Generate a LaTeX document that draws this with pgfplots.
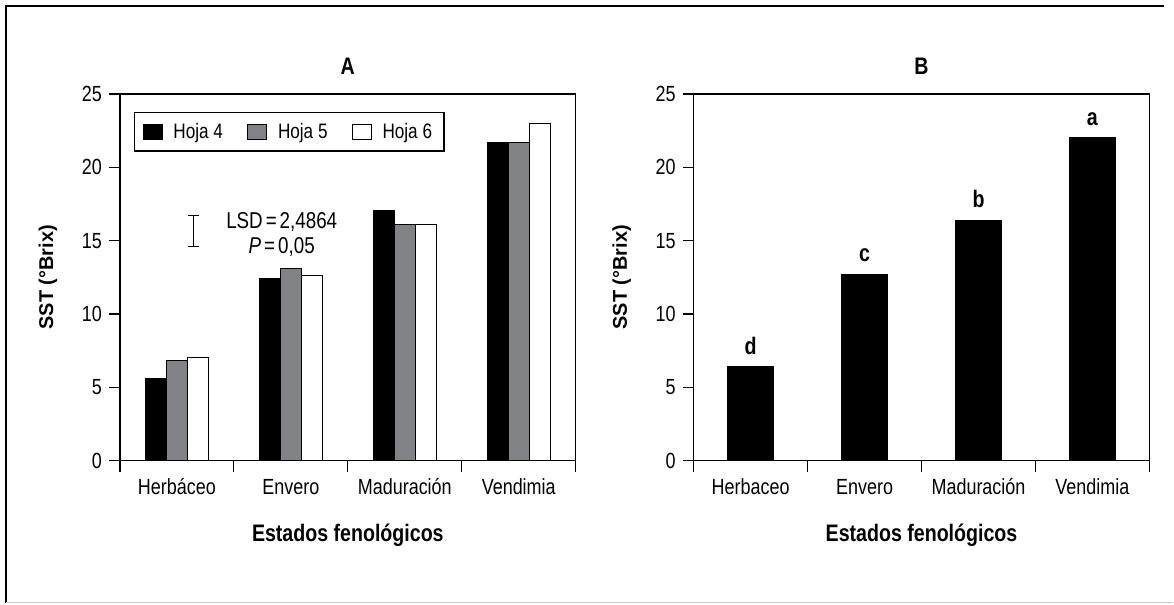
\documentclass[border=0pt]{standalone}
\usepackage{fontspec}
\setmainfont{Liberation Sans}[FakeStretch=0.82]
\newfontfamily\widefont{Liberation Sans}
\usepackage{pgfplots}
\pgfplotsset{compat=1.18}

\definecolor{midgray}{RGB}{128,130,133}

\pgfplotsset{
  brixaxis/.style={
    width=228bp, height=183.5bp, scale only axis,
    xmin=-0.5, xmax=3.5, ymin=0, ymax=25,
    ytick={0,5,...,25},
    xtick={-0.5,0.5,1.5,2.5,3.5}, xticklabels={},
    extra x ticks={0,1,2,3},
    extra x tick style={major tick length=0pt,
      xticklabel style={anchor=base, yshift=-17bp}},
    tick align=outside, major tick length=5.5bp,
    tick pos=left,
    tick style={black, line width=0.6bp},
    axis line style={line width=0.6bp},
    /pgf/number format/assume math mode=true,
    ticklabel style={font=\fontsize{11}{13}\selectfont},
    xlabel={\bfseries Estados fenológicos},
    xlabel style={at={(axis description cs:0.5,-0.221)}, anchor=base,
      font=\fontsize{12}{14}\selectfont},
    ylabel={SST (°Brix)},
    ylabel style={at={(axis description cs:-0.158,0.5)}, anchor=center,
      font=\widefont\bfseries\fontsize{10}{12}\selectfont},
    title style={at={(0.5,1)}, anchor=base, yshift=4bp,
      font=\bfseries\fontsize{12}{14}\selectfont},
  }
}

\begin{document}
\begin{tikzpicture}
\path (0bp,0bp) rectangle (587bp,302.5bp);
\draw[line width=0.6bp] (3bp,1bp) -- (3bp,299.5bp) -- (582.5bp,299.5bp);
\draw[black!20, line width=0.6bp] (3bp,1bp) -- (587bp,1bp);

% A: three leaves per stage
\begin{axis}[brixaxis, at={(60bp,72bp)}, anchor=south west,
    title={A},
    extra x tick labels={Herbáceo,Envero,Maduración,Vendimia},
    legend columns=3,
    legend style={at={(0.0307,0.950)}, anchor=north west,
      draw=black, line width=0.6bp,
      font=\fontsize{10.5}{12}\selectfont,
      inner xsep=4bp, inner ysep=3bp,
      /tikz/every odd column/.append style={column sep=3.5bp},
      /tikz/every even column/.append style={column sep=10bp}},
    legend image code/.code={\draw[#1, line width=0.5bp] (0bp,-3.75bp) rectangle (9.5bp,3.75bp);},
  ]
  \addplot[ybar, bar width=0.184, bar shift=-0.184, fill=black, draw=black, line width=0.5bp]
    coordinates {(0,5.59) (1,12.45) (2,17.08) (3,21.71)};
  \addplot[ybar, bar width=0.184, bar shift=0, fill=midgray, draw=black, line width=0.5bp]
    coordinates {(0,6.86) (1,13.08) (2,16.12) (3,21.71)};
  \addplot[ybar, bar width=0.184, bar shift=0.184, fill=white, draw=black, line width=0.5bp]
    coordinates {(0,7.02) (1,12.60) (2,16.12) (3,22.98)};
  \legend{Hoja 4,Hoja 5,Hoja 6}
  % LSD bar
  \addplot[forget plot, black, line width=0.6bp, mark=-, mark size=2.75bp,
    mark options={line width=0.6bp}]
    coordinates {(0.149,14.58) (0.149,16.69)};
  \node[align=center, font=\fontsize{11.5}{12.35}\selectfont] at (axis cs:0.92,15.44)
    {LSD\kern1.5pt=\kern1.5pt2,4864\\\textit{P}\kern1.5pt=\kern1.5pt0,05};
\end{axis}

% B: mean per stage
\begin{axis}[brixaxis, at={(347bp,72bp)}, anchor=south west,
    title={B},
    extra x tick labels={Herbaceo,Envero,Maduración,Vendimia},
  ]
  \addplot[ybar, bar width=0.40, bar shift=0, fill=black, draw=black, line width=0.5bp,
    point meta=explicit symbolic, nodes near coords,
    every node near coord/.append style={font=\bfseries\fontsize{12}{14}\selectfont,
      anchor=south, yshift=2.5bp}]
    coordinates {(0,6.43) [d] (1,12.72) [c] (2,16.40) [b] (3,22.02) [a]};
\end{axis}
\end{tikzpicture}
\end{document}
